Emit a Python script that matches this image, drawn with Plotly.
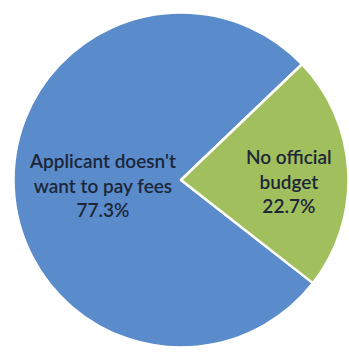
import plotly.graph_objects as go

# Reasons given, with their share of responses (%)
categories = ["Applicant doesn't<br>want to pay fees", "No official<br>budget"]
shares = [77.3, 22.7]
slice_colors = ["#5A8BCA", "#A1BF5C"]

W, H = 349, 353
cx, cy, r = 181, 180, 167.5  # pie centre and radius in pixels

fig = go.Figure(
    go.Pie(
        labels=categories,
        values=shares,
        sort=False,
        direction="clockwise",
        rotation=128,
        marker=dict(colors=slice_colors, line=dict(color="white", width=2.5)),
        textinfo="none",
        hoverinfo="label+percent",
        showlegend=False,
        domain=dict(
            x=[(cx - r) / W, (cx + r) / W],
            y=[(H - cy - r) / H, (H - cy + r) / H],
        ),
    )
)

# In-slice labels: category name followed by its share
label_pos = [(102, 185), (289, 181)]
for cat, val, (px, py) in zip(categories, shares, label_pos):
    fig.add_annotation(
        x=px / W,
        y=1 - py / H,
        xref="paper",
        yref="paper",
        xanchor="center",
        yanchor="middle",
        text=f"{cat}<br>{val:.1f}%",
        showarrow=False,
        align="center",
        font=dict(family="Lato", size=19, color="#1c2638", weight=600),
    )

fig.update_layout(
    width=W,
    height=H,
    margin=dict(l=0, r=0, t=0, b=0),
    paper_bgcolor="white",
    plot_bgcolor="white",
)

fig.write_html("out.html")
